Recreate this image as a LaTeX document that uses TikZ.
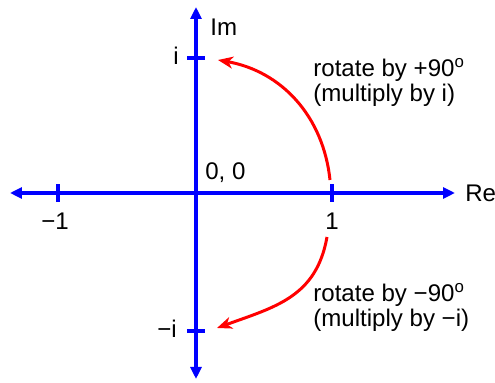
\documentclass[tikz,border=0pt]{standalone}
\usepackage{fontspec}
\setmainfont{Liberation Sans}
\usetikzlibrary{arrows.meta, positioning, calc}
\tikzset{
    axis/.style={draw=blue, line width=2.3pt, {Triangle[length=2.4mm, width=2.2mm]}-{Triangle[length=2.4mm, width=2.2mm]}},
    tickmark/.style={draw=blue, line width=2.3pt},
    rotarrow/.style={draw=red, line width=1.7pt, -{Stealth[length=3mm, width=2.4mm, inset=0.9mm]}},
    lbl/.style={font=\fontsize{13.7}{14.5}\selectfont, inner sep=0pt},
    note/.style={lbl, align=left, anchor=base west},
}

\begin{document}
\begin{tikzpicture}
    \useasboundingbox (-3.92,-3.80) rectangle (5.98,3.86);

    % Axis ends and unit points
    \coordinate (o) at (0,0);
    \coordinate (west) at (-3.72,0);
    \coordinate (east) at (5.18,0);
    \coordinate (south) at (0,-3.72);
    \coordinate (north) at (0,3.72);
    \coordinate (one) at (2.72,0);
    \coordinate (mone) at (-2.76,0);
    \coordinate (imag) at (0,2.70);
    \coordinate (mimag) at (0,-2.76);

    % Axes
    \draw[axis] (west) -- (east);
    \draw[axis] (south) -- (north);

    % Tick marks
    \foreach \p in {one, mone}
        \draw[tickmark] ($(\p)+(0,-0.18)$) -- ($(\p)+(0,0.18)$);
    \foreach \p in {imag, mimag}
        \draw[tickmark] ($(\p)+(-0.18,0)$) -- ($(\p)+(0.18,0)$);

    % Labels
    \node[lbl, anchor=base west] (re) at (5.38,-0.18) {Re};
    \node[lbl, anchor=base west] (im) at (0.28,3.14) {Im};
    \node[lbl, anchor=base west] (zero) at (0.18,0.26) {0, 0};
    \node[lbl, anchor=base] (lone) at (2.72,-0.74) {1};
    \node[lbl, anchor=base] (lmone) at (-2.82,-0.74) {−1};
    \node[lbl, anchor=base] (limag) at (-0.40,2.56) {i};
    \node[lbl, anchor=base] (lmimag) at (-0.58,-2.90) {−i};

    % Rotations
    \coordinate (s1) at (2.68,0.26);
    \coordinate (e1) at (0.44,2.66);
    \coordinate (s2) at (2.62,-0.88);
    \coordinate (e2) at (0.42,-2.70);
    \draw[rotarrow] (s1) to[out=96, in=-10] (e1);
    \draw[rotarrow] (s2) to[out=-100, in=20, looseness=1.1] (e2);

    \node[note] (plus) at (2.34,1.82) {rotate by +90\textsuperscript{o}\\(multiply by i)};
    \node[note] (minus) at (2.34,-2.68) {rotate by −90\textsuperscript{o}\\(multiply by −i)};
\end{tikzpicture}
\end{document}
